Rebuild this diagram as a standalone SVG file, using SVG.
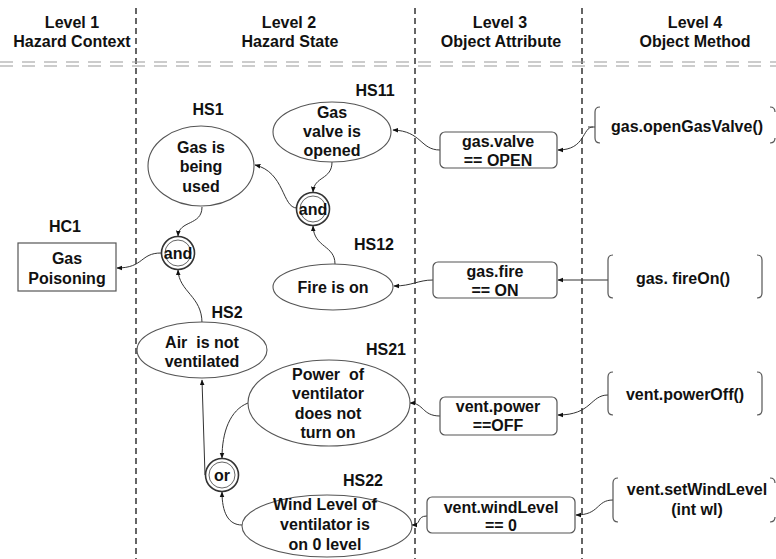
<svg xmlns="http://www.w3.org/2000/svg" width="776" height="559" viewBox="0 0 776 559">
<defs>
<marker id="arr" viewBox="0 0 10 10" refX="9" refY="5" markerWidth="6" markerHeight="6" orient="auto" markerUnits="userSpaceOnUse">
<path d="M0,1 L10,5 L0,9 z" fill="#111"/>
</marker>
</defs>
<style>
text{font-family:"Liberation Sans",Arial,sans-serif;font-weight:bold;font-size:16px;fill:#111;text-anchor:middle}
.lane{stroke:#333;stroke-width:1.5;stroke-dasharray:6 4;fill:none}
.hdr{stroke:#999;stroke-width:1.2;stroke-dasharray:13 9;fill:none}
.ell{fill:#fff;stroke:#555;stroke-width:1.1}
.box{fill:#fff;stroke:#555;stroke-width:1.2}
.gate-o{fill:#fff;stroke:#333;stroke-width:1.6}
.gate-i{fill:none;stroke:#666;stroke-width:1}
.br{fill:none;stroke:#555;stroke-width:1.2}
.con{fill:none;stroke:#333;stroke-width:1;marker-end:url(#arr)}
</style>
<rect width="776" height="559" fill="#fff"/>
<g id="lanes">
<line class="lane" x1="136" y1="8" x2="136" y2="559"/>
<line class="lane" x1="415" y1="8" x2="415" y2="559"/>
<line class="lane" x1="582" y1="8" x2="582" y2="559"/>
<line class="hdr" x1="0" y1="62" x2="776" y2="62"/>
<line class="hdr" x1="0" y1="66" x2="776" y2="66"/>
</g>
<g id="headers">
<text x="72" y="28">Level 1</text><text x="72" y="47">Hazard Context</text>
<text x="289" y="28">Level 2</text><text x="290" y="47">Hazard State</text>
<text x="500" y="28">Level 3</text><text x="501" y="47">Object Attribute</text>
<text x="695" y="28">Level 4</text><text x="695" y="47">Object Method</text>
</g>
<g id="connectors">
<path class="con" d="M593,127 C582,127 586,150 558,150"/>
<path class="con" d="M440,150 C420,150 422,131 393,130"/>
<path class="con" d="M608,280 L558,280"/>
<path class="con" d="M433,280 C418,280 412,286 394,286"/>
<path class="con" d="M332,162 C332,180 314,176 313,192"/>
<path class="con" d="M335,264 C335,245 314,248 313,226"/>
<path class="con" d="M297,208 C282,208 285,172 255,165"/>
<path class="con" d="M202,207 C202,226 179,220 178,236"/>
<path class="con" d="M202,323 C202,296 179,292 178,270"/>
<path class="con" d="M161,253 C140,253 144,268 117,268"/>
<path class="con" d="M608,395 C590,395 592,415 558,415"/>
<path class="con" d="M440,416 C422,416 424,403 410,403"/>
<path class="con" d="M613,500 C596,500 600,515 576,515"/>
<path class="con" d="M427,516 C416,516 422,525 412,525"/>
<path class="con" d="M248,403 C230,410 222,432 222,458"/>
<path class="con" d="M242,525 C228,525 222,512 222,492"/>
<path class="con" d="M205,475 L202,380"/>
</g>
<g id="HC1">
<text x="65" y="232">HC1</text>
<rect class="box" x="18" y="243" width="98" height="48"/>
<text x="67" y="264">Gas</text><text x="67" y="284">Poisoning</text>
</g>
<g id="HS1">
<text x="208" y="115">HS1</text>
<ellipse class="ell" cx="201" cy="166" rx="53" ry="40"/>
<text x="201" y="153">Gas is</text><text x="201" y="172">being</text><text x="201" y="192">used</text>
</g>
<g id="HS11">
<text x="375" y="96">HS11</text>
<ellipse class="ell" cx="332" cy="132" rx="59" ry="30"/>
<text x="332" y="118">Gas</text><text x="332" y="137">valve is</text><text x="332" y="156">opened</text>
</g>
<g id="HS12">
<text x="374" y="250">HS12</text>
<ellipse class="ell" cx="333" cy="287" rx="60" ry="23"/>
<text x="333" y="293">Fire is on</text>
</g>
<g id="HS2">
<text x="227" y="318">HS2</text>
<ellipse class="ell" cx="202" cy="350" rx="65" ry="28"/>
<text x="202" y="348" xml:space="preserve">Air  is not</text><text x="202" y="367">ventilated</text>
</g>
<g id="HS21">
<text x="386" y="355">HS21</text>
<ellipse class="ell" cx="329" cy="403" rx="81" ry="43"/>
<text x="328" y="380" xml:space="preserve">Power  of</text><text x="328" y="399">ventilator</text><text x="328" y="419">does not</text><text x="328" y="438">turn on</text>
</g>
<g id="HS22">
<text x="363" y="486">HS22</text>
<ellipse class="ell" cx="327" cy="526" rx="85" ry="31"/>
<text x="325" y="510">Wind Level of</text><text x="325" y="530">ventilator is</text><text x="325" y="550">on 0 level</text>
</g>
<g id="AND1">
<circle class="gate-o" cx="313" cy="209" r="16.5"/><circle class="gate-i" cx="313" cy="209" r="13"/>
<text x="313" y="215">and</text>
</g>
<g id="AND2">
<circle class="gate-o" cx="178" cy="253" r="16.5"/><circle class="gate-i" cx="178" cy="253" r="13"/>
<text x="178" y="259">and</text>
</g>
<g id="OR">
<circle class="gate-o" cx="222" cy="475" r="16.5"/><circle class="gate-i" cx="222" cy="475" r="13"/>
<text x="222" y="481">or</text>
</g>
<g id="A_valve">
<rect class="box" x="440" y="132" width="117" height="36" rx="5"/>
<text x="498" y="147">gas.valve</text><text x="498" y="166">== OPEN</text>
</g>
<g id="A_fire">
<rect class="box" x="433" y="262" width="124" height="36" rx="5"/>
<text x="495" y="277">gas.fire</text><text x="495" y="296">== ON</text>
</g>
<g id="A_power">
<rect class="box" x="440" y="397" width="117" height="38" rx="5"/>
<text x="498" y="412">vent.power</text><text x="498" y="431">==OFF</text>
</g>
<g id="A_wind">
<rect class="box" x="427" y="497" width="148" height="36" rx="5"/>
<text x="501" y="513">vent.windLevel</text><text x="501" y="531">== 0</text>
</g>
<g id="M_open">
<path class="br" d="M600,107 Q595,107 595,112 L595,138 Q595,143 600,143"/>
<path class="br" d="M770,107 Q775,107 775,112"/>
<path class="br" d="M775,138 Q775,143 770,143"/>
<line class="br" x1="588" y1="127" x2="595" y2="127"/>
<text x="687" y="132">gas.openGasValve()</text>
</g>
<g id="M_fire">
<path class="br" d="M613,255 Q608,255 608,260 L608,293 Q608,298 613,298"/>
<path class="br" d="M757,255 Q762,255 762,260 L762,293 Q762,298 757,298"/>
<text x="683" y="284">gas. fireOn()</text>
</g>
<g id="M_power">
<path class="br" d="M613,372 Q608,372 608,377 L608,410 Q608,415 613,415"/>
<path class="br" d="M757,372 Q762,372 762,377 L762,410 Q762,415 757,415"/>
<text x="685" y="400">vent.powerOff()</text>
</g>
<g id="M_wind">
<path class="br" d="M618,478 Q613,478 613,483 L613,517 Q613,522 618,522"/>
<path class="br" d="M770,478 Q775,478 775,483"/>
<path class="br" d="M775,517 Q775,522 770,522"/>
<text x="697" y="495">vent.setWindLevel</text><text x="697" y="515">(int wl)</text>
</g>
</svg>
